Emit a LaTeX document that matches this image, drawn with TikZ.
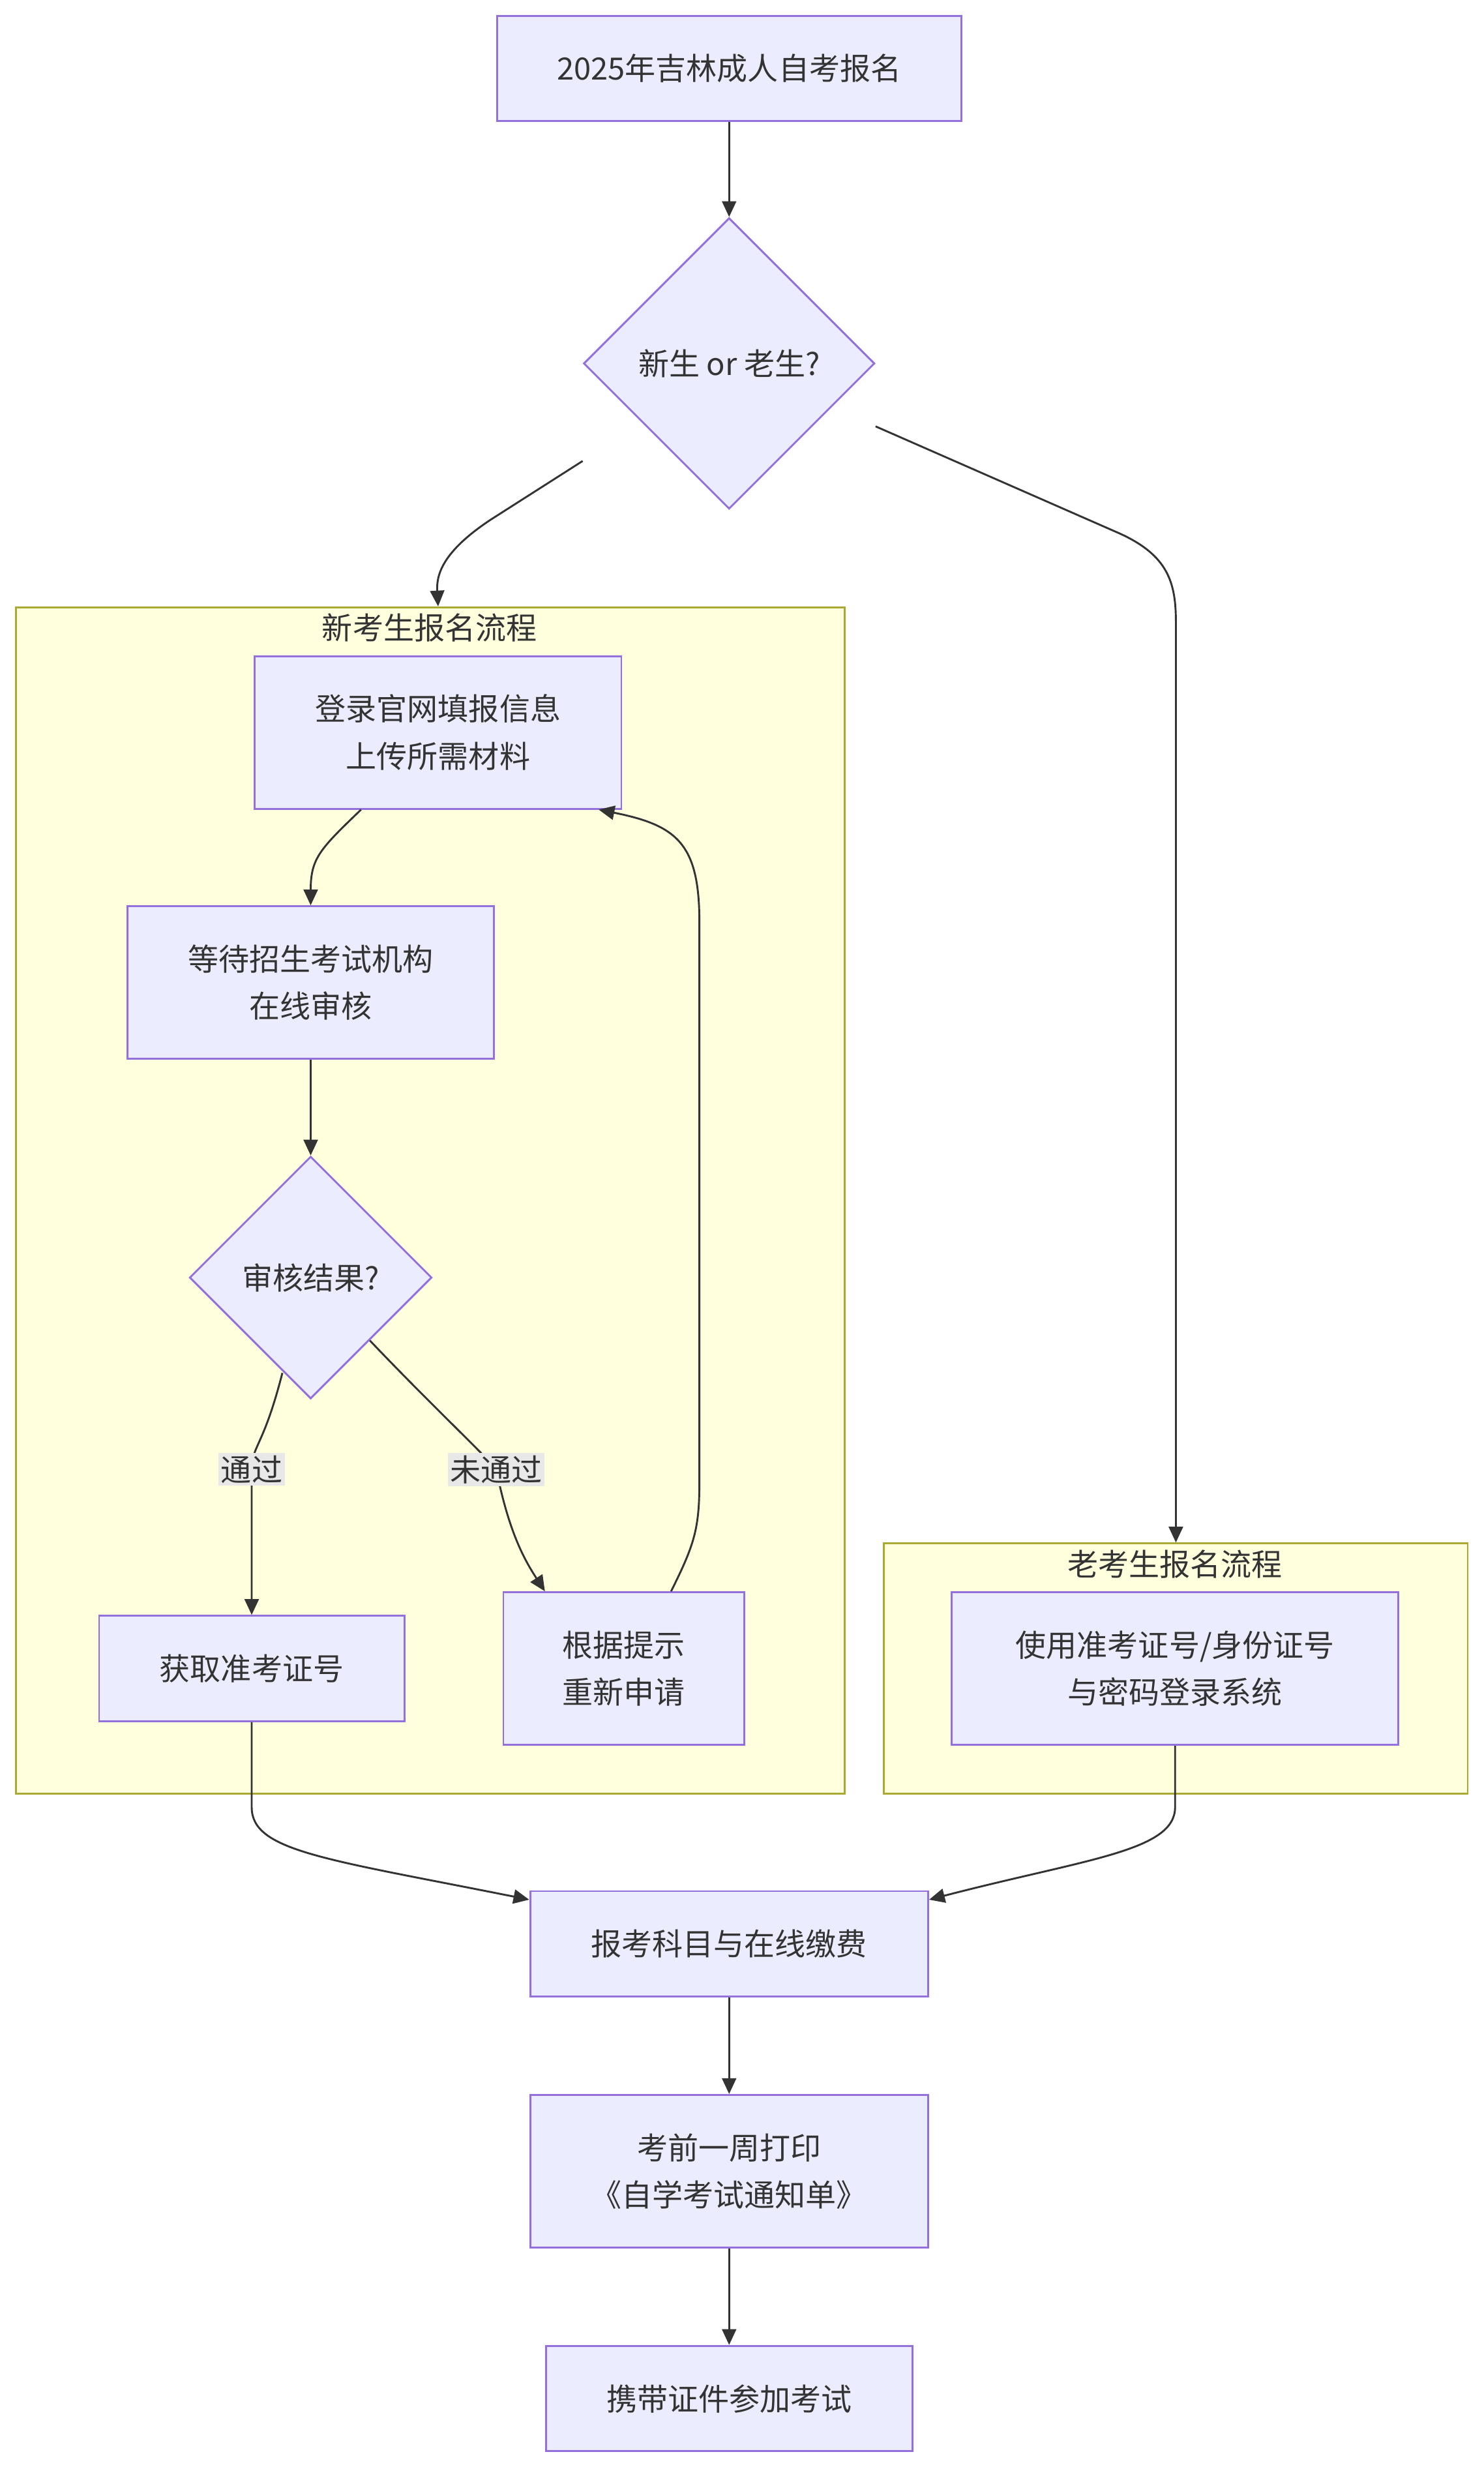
\documentclass[tikz,border=0pt]{standalone}
\usepackage{fontspec}
\setmainfont{Noto Sans CJK SC}
\usetikzlibrary{shapes.geometric,arrows.meta,calc}
\definecolor{nodefill}{HTML}{ECECFF}
\definecolor{nodeline}{HTML}{9370DB}
\definecolor{clfill}{HTML}{FFFFDE}
\definecolor{clline}{HTML}{AAAA33}
\definecolor{edgec}{HTML}{333333}
\definecolor{txt}{HTML}{333333}
\definecolor{lblbg}{HTML}{E8E8E8}
\begin{document}
\begin{tikzpicture}[x=1pt,y=-1pt,
  txtfont/.style={font=\fontsize{19.5}{30}\selectfont},
  box/.style={draw=nodeline,fill=nodefill,line width=1.2pt,inner sep=0pt,align=center,text=txt,txtfont},
  dia/.style={box,shape=diamond},
  cluster/.style={draw=clline,fill=clfill,line width=1.2pt,inner sep=0pt},
  ttl/.style={text=txt,txtfont,inner sep=0pt},
  lbl/.style={fill=lblbg,text=txt,txtfont,inner sep=1.5pt},
  edge/.style={draw=edgec,line width=1.2pt,-{Triangle[length=10pt,width=9pt]}}
]
\path[use as bounding box,fill=white] (0,0) rectangle (943,1568);

% clusters
\node[cluster,minimum width=527pt,minimum height=754pt] (N) at (273.5,763) {};
\node[ttl] (Nt) at (273,399) {新考生报名流程};
\node[cluster,minimum width=371pt,minimum height=159pt] (O) at (747.5,1060.5) {};
\node[ttl] (Ot) at (747,994) {老考生报名流程};

% nodes
\node[box,minimum width=295pt,minimum height=67pt] (A) at (463.5,43.5) {2025年吉林成人自考报名};
\node[dia,minimum width=185pt,minimum height=185pt] (B) at (463.5,231) {新生 or 老生?};
\node[box,minimum width=233pt,minimum height=97pt] (C) at (278.5,465.5) {登录官网填报信息\\上传所需材料};
\node[box,minimum width=233pt,minimum height=97pt] (D) at (197.5,624.5) {等待招生考试机构\\在线审核};
\node[dia,minimum width=154pt,minimum height=154pt] (E) at (197.5,812) {审核结果?};
\node[box,minimum width=194pt,minimum height=67pt] (F) at (160,1060.5) {获取准考证号};
\node[box,minimum width=153pt,minimum height=97pt] (G) at (396.5,1060.5) {根据提示\\重新申请};
\node[box,minimum width=284pt,minimum height=97pt] (H) at (747,1060.5) {使用准考证号/身份证号\\与密码登录系统};
\node[box,minimum width=253pt,minimum height=67pt] (I) at (463.5,1235.5) {报考科目与在线缴费};
\node[box,minimum width=253pt,minimum height=97pt] (J) at (463.5,1380) {考前一周打印\\《自学考试通知单》};
\node[box,minimum width=233pt,minimum height=67pt] (K) at (463.5,1524.5) {携带证件参加考试};

\coordinate (P1) at (160,934);
\coordinate (P2) at (315.5,934);

% edges
\draw[edge] (A.south) -- (B.north);
\draw[edge] ($(B.west)+(0,62)$) -- ($(B.west)+(-58,99)$)
  .. controls ($(B.west)+(-90,120)$) and ($(B.west)+(-93,135)$) .. (C.center |- N.north);
\draw[edge] ($(B.east)+(0,40)$) -- ($(B.east)+(155,108)$)
  .. controls ($(B.east)+(186,122)$) and ($(O.north)+(0,-610)$) .. ($(O.north)+(0,-585)$) -- (O.north);
\draw[edge] ($(C.south)+(-49,0)$) .. controls ($(C.south)+(-75,25)$) and ($(D.north)+(0,-30)$) .. (D.north);
\draw[edge] (D.south) -- (E.north);
\draw[edge] ($(E.south)+(-18,-17)$) .. controls ($(E.south)+(-30,30)$) and ($(P1)+(0,-15)$) .. (P1) -- (F.north);
\draw[edge] ($(E.east)+(-40,40)$) .. controls ($(E.east)+(0,82)$) and ($(P2)+(-8,-10)$) .. (P2)
  .. controls ($(P2)+(8,40)$) and ($(G.north west)+(14,-20)$) .. ($(G.north west)+(27,0)$);
\draw[edge] ($(G.north east)+(-47,0)$) .. controls ($(G.north east)+(-32,-30)$) and ($(G.north east)+(-29,-40)$) .. ($(G.north east)+(-29,-70)$)
  -- ($(C.north east)+(49,170)$) .. controls ($(C.north east)+(49,120)$) and ($(C.south east)+(35,10)$) .. ($(C.south east)+(-15,0)$);
\draw[edge] (F.south) -- ($(F.south)+(0,54)$) .. controls ($(F.south)+(0,82)$) and ($(I.north west)+(-130,-20)$) .. ($(I.north west)+(0,6)$);
\draw[edge] (H.south) -- ($(H.south)+(0,39)$) .. controls ($(H.south)+(0,67)$) and ($(I.north east)+(100,-20)$) .. ($(I.north east)+(0,6)$);
\draw[edge] (I.south) -- (J.north);
\draw[edge] (J.south) -- (K.north);

% edge labels
\node[lbl] (L1) at (P1) {通过};
\node[lbl] (L2) at (P2) {未通过};
\end{tikzpicture}
\end{document}
